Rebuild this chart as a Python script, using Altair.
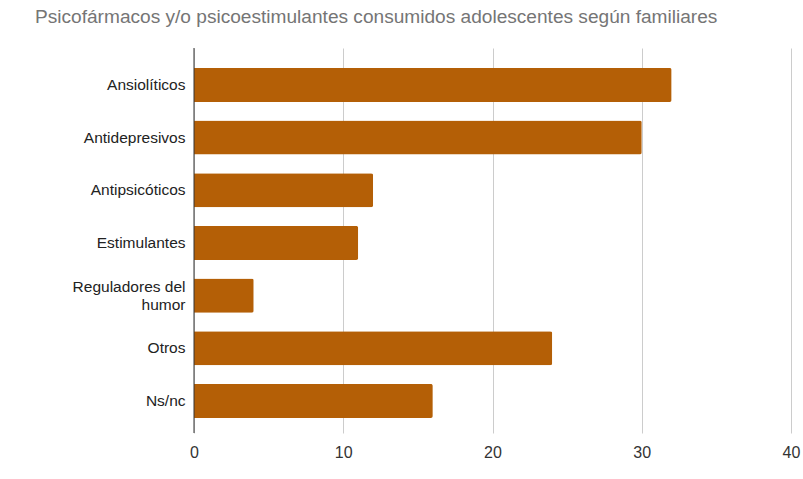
import altair as alt
import pandas as pd

categorias = ["Ansiolíticos", "Antidepresivos", "Antipsicóticos", "Estimulantes",
              "Reguladores del humor", "Otros", "Ns/nc"]
valores = [32, 30, 12, 11, 4, 24, 16]
ticks_x = [0, 10, 20, 30, 40]

df = pd.DataFrame({"categoria": categorias, "valor": valores})
FONT = "Liberation Sans"
LARGA = "Reguladores del humor"

y_enc = alt.Y(
    "categoria:N",
    sort=categorias,
    title=None,
    scale=alt.Scale(paddingInner=0.354, paddingOuter=0.332, align=0.57),
    axis=alt.Axis(
        domain=False, ticks=False, labelPadding=9, labelFontSize=15.5,
        labelColor="#222222", labelFont=FONT, labelLimit=200,
        labelExpr=f"datum.label == '{LARGA}' ? ['Reguladores del', 'humor'] : datum.label",
        labelLineHeight=18,
        labelOffset={"condition": {"test": f"datum.label == '{LARGA}'", "value": -9}, "value": 0},
    ),
)

bars = alt.Chart(df).mark_bar(color="#b45f06", cornerRadiusEnd=2).encode(
    x=alt.X(
        "valor:Q",
        title=None,
        scale=alt.Scale(domain=[0, 40], nice=False),
        axis=alt.Axis(
            values=ticks_x, domain=False, ticks=False, grid=True,
            gridColor="#cccccc", gridWidth=1, labelPadding=11,
            labelFontSize=16, labelColor="#333333", labelFont=FONT,
            labelFlush=False, labelBound=False,
        ),
    ),
    y=y_enc,
)

zero = alt.Chart(pd.DataFrame({"z": [0]})).mark_rule(color="#333333", strokeWidth=1).encode(
    x=alt.X("z:Q", scale=alt.Scale(domain=[0, 40], nice=False))
)

chart = (bars + zero).properties(
    width=597,
    height=385,
    title=alt.TitleParams(
        "Psicofármacos y/o psicoestimulantes consumidos adolescentes según familiares",
        anchor="start", frame="group", dx=-159, offset=20,
        font=FONT, fontSize=19.1, fontWeight="normal", color="#757575",
    ),
    autosize=alt.AutoSizeParams(type="none"),
    padding={"left": 194, "top": 48, "right": 12, "bottom": 46},
).configure_view(stroke=None)

chart.save("out.html", embed_options={"renderer": "svg", "actions": False})
